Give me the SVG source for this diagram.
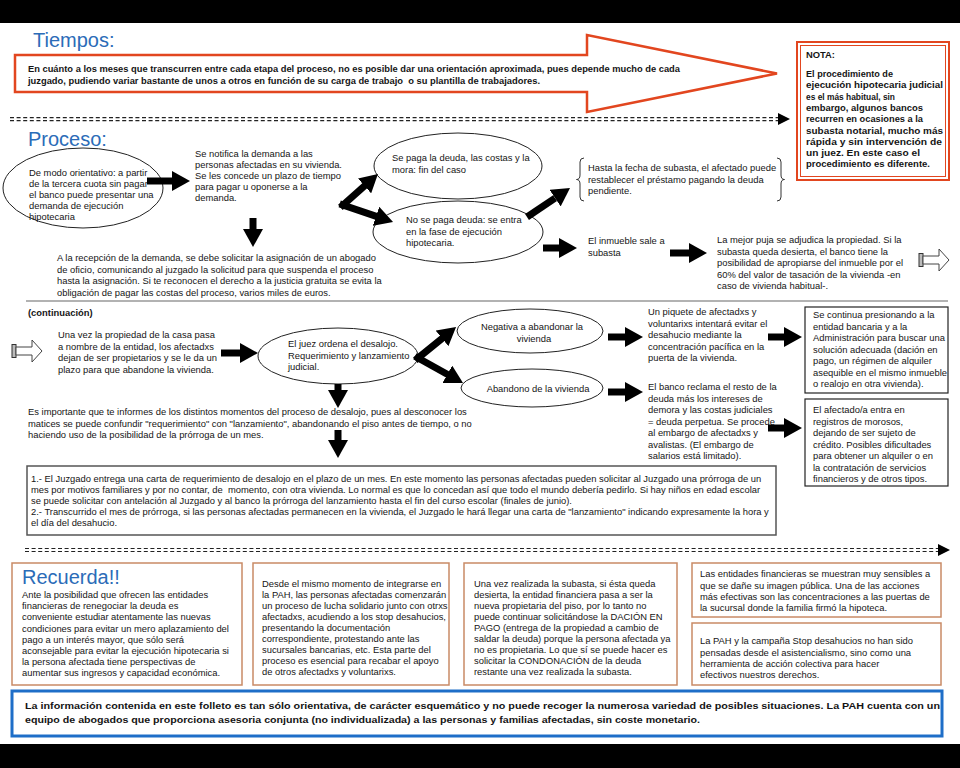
<svg xmlns="http://www.w3.org/2000/svg" width="960" height="768" viewBox="0 0 960 768">
<style>
.t{font-family:"Liberation Sans",Arial,sans-serif;font-size:9.4px;fill:#151515}
.b{font-weight:bold}
.h{font-family:"Liberation Sans",Arial,sans-serif;font-size:20px;fill:#2b6cb8}
.ell{fill:#fff;stroke:#222;stroke-width:1}
.conn{stroke:#000;stroke-width:7;fill:none;marker-end:url(#ah)}
.rbox{fill:#fff;stroke:#c98a66;stroke-width:1.5}
.kbox{fill:#fff;stroke:#222;stroke-width:1.2}
.dash{stroke:#222;stroke-width:1.2;stroke-dasharray:4 2.6;fill:none}
</style>
<defs>
<marker id="ah" viewBox="0 0 18 20" refX="0" refY="10" markerWidth="18" markerHeight="20" markerUnits="userSpaceOnUse" orient="auto"><path d="M0,0 L18,10 L0,20 z" fill="#000"/></marker>
<g id="hollow"><rect x="0" y="-6.5" width="4" height="13" fill="#bbb" stroke="#333" stroke-width="1"/><path d="M4,-4 L20,-4 L20,-11 L30,0 L20,11 L20,4 L4,4 z" fill="#fff" stroke="#444" stroke-width="1"/></g>
</defs>
<rect width="960" height="768" fill="#fff"/>
<rect x="0" y="0" width="960" height="23" fill="#000"/>
<rect x="0" y="744" width="960" height="24" fill="#000"/>

<g id="tiempos">
<text class="h" x="33" y="47">Tiempos:</text>
<path d="M15,55 L587,55 L587,35 L777,73.5 L587,112 L587,92 L15,92 z" fill="#fff" stroke="#e2461f" stroke-width="2.5"/>
<text class="t b" font-size="9.5" style="white-space:pre"><tspan x="28" y="72" textLength="652" lengthAdjust="spacingAndGlyphs">En cuánto a los meses que transcurren entre cada etapa del proceso, no es posible dar una orientación aproximada, pues depende mucho de cada</tspan><tspan x="28" y="84" textLength="512" lengthAdjust="spacingAndGlyphs">juzgado, pudiendo variar bastante de unos a otros en función de su carga de trabajo  o su plantilla de trabajadores.</tspan></text>
</g>

<g id="nota">
<rect x="797" y="42" width="152" height="138" fill="#fff" stroke="#e2461f" stroke-width="2"/>
<rect x="800.5" y="45.5" width="145" height="131" fill="none" stroke="#e2461f" stroke-width="1"/>
<text class="t b" font-size="9.5"><tspan x="806" y="58">NOTA:</tspan><tspan x="806" y="77" textLength="87" lengthAdjust="spacingAndGlyphs">El procedimiento de</tspan><tspan x="806" y="88.3" textLength="137" lengthAdjust="spacingAndGlyphs">ejecución hipotecaria judicial</tspan><tspan x="806" y="99.6" textLength="89" lengthAdjust="spacingAndGlyphs">es el más habitual, sin</tspan><tspan x="806" y="110.9" textLength="117" lengthAdjust="spacingAndGlyphs">embargo, algunos bancos</tspan><tspan x="806" y="122.2" textLength="117" lengthAdjust="spacingAndGlyphs">recurren en ocasiones a la</tspan><tspan x="806" y="133.5" textLength="137" lengthAdjust="spacingAndGlyphs">subasta notarial, mucho más</tspan><tspan x="806" y="144.8" textLength="136" lengthAdjust="spacingAndGlyphs">rápida y sin intervención de</tspan><tspan x="806" y="156.1" textLength="114" lengthAdjust="spacingAndGlyphs">un juez. En este caso el</tspan><tspan x="806" y="167.4" textLength="124" lengthAdjust="spacingAndGlyphs">procedimiento es diferente.</tspan></text>
</g>

<g id="separators">
<line class="dash" x1="10" y1="117.6" x2="778" y2="117.6"/>
<line class="dash" x1="10" y1="120.6" x2="778" y2="120.6"/>
<path d="M778,113 L790,119 L778,125 z" fill="#000"/>
<line x1="26" y1="301" x2="948" y2="301" stroke="#666" stroke-width="1.2"/>
<line class="dash" x1="25" y1="548.5" x2="938" y2="548.5"/>
<line class="dash" x1="25" y1="551.5" x2="938" y2="551.5"/>
<path d="M938,544 L950,550 L938,556 z" fill="#000"/>
</g>

<text id="proceso-title" class="h" x="28" y="146">Proceso:</text>

<g id="n-inicio">
<ellipse class="ell" cx="83" cy="188" rx="80" ry="40"/>
<text class="t" font-size="9"><tspan x="29" y="176">De modo orientativo: a partir</tspan><tspan x="29" y="187">de la tercera cuota sin pagar</tspan><tspan x="29" y="198">el banco puede presentar una</tspan><tspan x="29" y="209">demanda de ejecución</tspan><tspan x="29" y="220">hipotecaria</tspan></text>
</g>

<g id="n-notifica">
<text class="t"><tspan x="195" y="157">Se notifica la demanda a las</tspan><tspan x="195" y="168">personas afectadas en su vivienda.</tspan><tspan x="195" y="179">Se les concede un plazo de tiempo</tspan><tspan x="195" y="190">para pagar u oponerse a la</tspan><tspan x="195" y="201">demanda.</tspan></text>
</g>

<g id="n-recepcion">
<text class="t"><tspan x="57" y="261">A la recepción de la demanda, se debe solicitar la asignación de un abogado</tspan><tspan x="57" y="272.5">de oficio, comunicando al juzgado la solicitud para que suspenda el proceso</tspan><tspan x="57" y="284">hasta la asignación. Si te reconocen el derecho a la justicia gratuita se evita la</tspan><tspan x="57" y="295.5">obligación de pagar las costas del proceso, varios miles de euros.</tspan></text>
</g>

<g id="n-paga">
<ellipse class="ell" cx="458" cy="166" rx="84" ry="33"/>
<text class="t"><tspan x="392" y="161">Se paga la deuda, las costas y la</tspan><tspan x="392" y="172.5">mora: fin del caso</tspan></text>
</g>

<g id="n-nopaga">
<ellipse class="ell" cx="458" cy="232" rx="85" ry="31"/>
<text class="t"><tspan x="406" y="223">No se paga deuda: se entra</tspan><tspan x="406" y="234.5">en la fase de ejecución</tspan><tspan x="406" y="246">hipotecaria.</tspan></text>
</g>

<g id="n-hasta">
<path d="M584,158 Q580,158 580,162 L580,175 Q580,179.5 576.5,179.5 Q580,179.5 580,184 L580,197 Q580,201 584,201" fill="none" stroke="#333" stroke-width="1"/>
<path d="M777,158 Q781,158 781,162 L781,175 Q781,179.5 784.5,179.5 Q781,179.5 781,184 L781,197 Q781,201 777,201" fill="none" stroke="#333" stroke-width="1"/>
<text class="t"><tspan x="588" y="171">Hasta la fecha de subasta, el afectado puede</tspan><tspan x="588" y="182.5">restablecer el préstamo pagando la deuda</tspan><tspan x="588" y="194">pendiente.</tspan></text>
</g>

<g id="n-inmueble">
<text class="t"><tspan x="588" y="244">El inmueble sale a</tspan><tspan x="588" y="255.5">subasta</tspan></text>
</g>

<g id="n-puja">
<text class="t"><tspan x="717" y="243">La mejor puja se adjudica la propiedad. Si la</tspan><tspan x="717" y="254.5">subasta queda desierta, el banco tiene la</tspan><tspan x="717" y="266">posibilidad de apropiarse del inmueble por el</tspan><tspan x="717" y="277.5">60% del valor de tasación de la vivienda -en</tspan><tspan x="717" y="289">caso de vivienda habitual-.</tspan></text>
</g>

<use id="hollow-1" href="#hollow" transform="translate(919,260)"/>

<text id="continuacion" class="t b" x="28" y="316">(continuación)</text>
<use id="hollow-2" href="#hollow" transform="translate(12,351)"/>

<g id="n-unavez">
<text class="t"><tspan x="58" y="338">Una vez la propiedad de la casa pasa</tspan><tspan x="58" y="349.5">a nombre de la entidad, los afectadxs</tspan><tspan x="58" y="361">dejan de ser propietarios y se le da un</tspan><tspan x="58" y="372.5">plazo para que abandone la vivienda.</tspan></text>
</g>

<g id="n-juez">
<ellipse class="ell" cx="338" cy="356" rx="80" ry="28"/>
<text class="t"><tspan x="288" y="347">El juez ordena el desalojo.</tspan><tspan x="288" y="358.5">Requerimiento y lanzamiento</tspan><tspan x="288" y="370">judicial.</tspan></text>
</g>

<g id="n-importante">
<text class="t"><tspan x="28" y="415">Es importante que te informes de los distintos momentos del proceso de desalojo, pues al desconocer los</tspan><tspan x="28" y="426.5">matices se puede confundir "requerimiento" con "lanzamiento", abandonando el piso antes de tiempo, o no</tspan><tspan x="28" y="438">haciendo uso de la posibilidad de la prórroga de un mes.</tspan></text>
</g>

<g id="n-negativa">
<ellipse class="ell" cx="530" cy="331" rx="73" ry="22"/>
<text class="t" text-anchor="middle"><tspan x="532" y="330">Negativa a abandonar la</tspan><tspan x="534" y="341.5">vivienda</tspan></text>
</g>

<g id="n-abandono">
<ellipse class="ell" cx="532" cy="388" rx="71" ry="19"/>
<text class="t" text-anchor="middle" x="538" y="392">Abandono de la vivienda</text>
</g>

<g id="n-piquete">
<text class="t"><tspan x="648" y="315">Un piquete de afectadxs y</tspan><tspan x="648" y="326.5">voluntarixs intentará evitar el</tspan><tspan x="648" y="338">desahucio mediante la</tspan><tspan x="648" y="349.5">concentración pacífica en la</tspan><tspan x="648" y="361">puerta de la vivienda.</tspan></text>
</g>

<g id="n-banco">
<text class="t"><tspan x="648" y="390">El banco reclama el resto de la</tspan><tspan x="648" y="401.5">deuda más los intereses de</tspan><tspan x="648" y="413">demora y las costas judiciales</tspan><tspan x="648" y="424.5">= deuda perpetua. Se procede</tspan><tspan x="648" y="436">al embargo de afectadxs y</tspan><tspan x="648" y="447.5">avalistas. (El embargo de</tspan><tspan x="648" y="459">salarios está limitado).</tspan></text>
</g>

<g id="n-continua">
<rect class="kbox" x="805" y="307" width="143" height="86"/>
<text class="t"><tspan x="813" y="318">Se continua presionando a la</tspan><tspan x="813" y="329.5">entidad bancaria y a la</tspan><tspan x="813" y="341">Administración para buscar una</tspan><tspan x="813" y="352.5">solución adecuada (dación en</tspan><tspan x="813" y="364">pago, un régimen de alquiler</tspan><tspan x="813" y="375.5">asequible en el mismo inmueble</tspan><tspan x="813" y="387">o realojo en otra vivienda).</tspan></text>
</g>

<g id="n-afectado">
<rect class="kbox" x="805" y="399" width="143" height="87"/>
<text class="t"><tspan x="813" y="413">El afectado/a entra en</tspan><tspan x="813" y="424.5">registros de morosos,</tspan><tspan x="813" y="436">dejando de ser sujeto de</tspan><tspan x="813" y="447.5">crédito. Posibles dificultades</tspan><tspan x="813" y="459">para obtener un alquiler o en</tspan><tspan x="813" y="470.5">la contratación de servicios</tspan><tspan x="813" y="482">financieros y de otros tipos.</tspan></text>
</g>

<g id="n-juzgado">
<rect x="27" y="466" width="749" height="69" fill="#fff" stroke="#555" stroke-width="1.5"/>
<text class="t" style="white-space:pre"><tspan x="31" y="482">1.- El Juzgado entrega una carta de requerimiento de desalojo en el plazo de un mes. En este momento las personas afectadas pueden solicitar al Juzgado una prórroga de un</tspan><tspan x="31" y="493">mes por motivos familiares y por no contar, de  momento, con otra vivienda. Lo normal es que lo concedan así que todo el mundo debería pedirlo. Si hay niños en edad escolar</tspan><tspan x="31" y="504">se puede solicitar con antelación al Juzgado y al banco la prórroga del lanzamiento hasta el fin del curso escolar (finales de junio).</tspan><tspan x="31" y="515">2.- Transcurrido el mes de prórroga, si las personas afectadas permanecen en la vivienda, el Juzgado le hará llegar una carta de "lanzamiento" indicando expresamente la hora y</tspan><tspan x="31" y="526">el día del desahucio.</tspan></text>
</g>

<g id="connectors">
<line class="conn" x1="147" y1="181" x2="172" y2="181"/>
<line class="conn" x1="253" y1="218" x2="253" y2="229"/>
<line class="conn" x1="343" y1="205" x2="364.5" y2="185.9" stroke-linecap="square"/>
<line class="conn" x1="343" y1="205" x2="376" y2="216.2" stroke-linecap="square"/>
<line class="conn" x1="527" y1="217" x2="555.1" y2="198.1"/>
<line class="conn" x1="543" y1="248" x2="559" y2="248"/>
<line class="conn" x1="670" y1="253" x2="689" y2="253"/>
<line class="conn" x1="221" y1="353" x2="240" y2="353"/>
<line class="conn" x1="338" y1="384" x2="338" y2="390"/>
<line class="conn" x1="418" y1="358" x2="442.1" y2="338.4" stroke-linecap="square"/>
<line class="conn" x1="418" y1="358" x2="447.3" y2="374.3" stroke-linecap="square"/>
<line class="conn" x1="338" y1="430" x2="338" y2="440"/>
<line class="conn" x1="608" y1="337" x2="625" y2="337"/>
<line class="conn" x1="608" y1="392" x2="625" y2="392"/>
<line class="conn" x1="768" y1="337" x2="784" y2="337"/>
<line class="conn" x1="768" y1="428" x2="784" y2="428"/>
</g>

<g id="n-recuerda">
<rect class="rbox" x="12" y="563" width="230" height="122"/>
<text class="h" x="22" y="584">Recuerda!!</text>
<text class="t"><tspan x="22" y="598">Ante la posibilidad que ofrecen las entidades</tspan><tspan x="22" y="609">financieras de renegociar la deuda es</tspan><tspan x="22" y="620">conveniente estudiar atentamente las nuevas</tspan><tspan x="22" y="631.5">condiciones para evitar un mero aplazamiento del</tspan><tspan x="22" y="642.5">pago a un interés mayor, que sólo será</tspan><tspan x="22" y="653.5">aconsejable para evitar la ejecución hipotecaria si</tspan><tspan x="22" y="665">la persona afectada tiene perspectivas de</tspan><tspan x="22" y="676">aumentar sus ingresos y capacidad económica.</tspan></text>
</g>

<g id="n-desde">
<rect class="rbox" x="253" y="563" width="196" height="122"/>
<text class="t"><tspan x="262" y="587">Desde el mismo momento de integrarse en</tspan><tspan x="262" y="598">la PAH, las personas afectadas comenzarán</tspan><tspan x="262" y="609">un proceso de lucha solidario junto con otrxs</tspan><tspan x="262" y="620">afectadxs, acudiendo a los stop desahucios,</tspan><tspan x="262" y="631">presentando la documentación</tspan><tspan x="262" y="642">correspondiente, protestando ante las</tspan><tspan x="262" y="653">sucursales bancarias, etc. Esta parte del</tspan><tspan x="262" y="664">proceso es esencial para recabar el apoyo</tspan><tspan x="262" y="675">de otros afectadxs y voluntarixs.</tspan></text>
</g>

<g id="n-subasta">
<rect class="rbox" x="464" y="563" width="213" height="122"/>
<text class="t"><tspan x="474" y="587">Una vez realizada la subasta, si ésta queda</tspan><tspan x="474" y="598">desierta, la entidad financiera pasa a ser la</tspan><tspan x="474" y="609">nueva propietaria del piso, por lo tanto no</tspan><tspan x="474" y="620">puede continuar solicitándose la DACIÓN EN</tspan><tspan x="474" y="631">PAGO (entrega de la propiedad a cambio de</tspan><tspan x="474" y="642">saldar la deuda) porque la persona afectada ya</tspan><tspan x="474" y="653">no es propietaria. Lo que sí se puede hacer es</tspan><tspan x="474" y="664">solicitar la CONDONACIÓN de la deuda</tspan><tspan x="474" y="675">restante una vez realizada la subasta.</tspan></text>
</g>

<g id="n-entidades">
<rect class="rbox" x="692" y="563" width="249" height="54"/>
<text class="t"><tspan x="700" y="577">Las entidades financieras se muestran muy sensibles a</tspan><tspan x="700" y="588.5">que se dañe su imagen pública. Una de las acciones</tspan><tspan x="700" y="600">más efectivas son las concentraciones a las puertas de</tspan><tspan x="700" y="611">la sucursal donde la familia firmó la hipoteca.</tspan></text>
</g>

<g id="n-pah">
<rect class="rbox" x="692" y="623" width="249" height="62"/>
<text class="t"><tspan x="700" y="644">La PAH y la campaña Stop desahucios no han sido</tspan><tspan x="700" y="655.5">pensadas desde el asistencialismo, sino como una</tspan><tspan x="700" y="667">herramienta de acción colectiva para hacer</tspan><tspan x="700" y="678">efectivos nuestros derechos.</tspan></text>
</g>

<g id="n-info">
<rect x="12" y="691" width="930" height="45" fill="#fff" stroke="#1e6ec8" stroke-width="3"/>
<text class="t b" font-size="10.5"><tspan x="25" y="709" textLength="915" lengthAdjust="spacingAndGlyphs">La información contenida en este folleto es tan sólo orientativa, de carácter esquemático y no puede recoger la numerosa variedad de posibles situaciones. La PAH cuenta con un</tspan><tspan x="25" y="722.5" textLength="675" lengthAdjust="spacingAndGlyphs">equipo de abogados que proporciona asesoria conjunta (no individualizada) a las personas y familias afectadas, sin coste monetario.</tspan></text>
</g>
</svg>
